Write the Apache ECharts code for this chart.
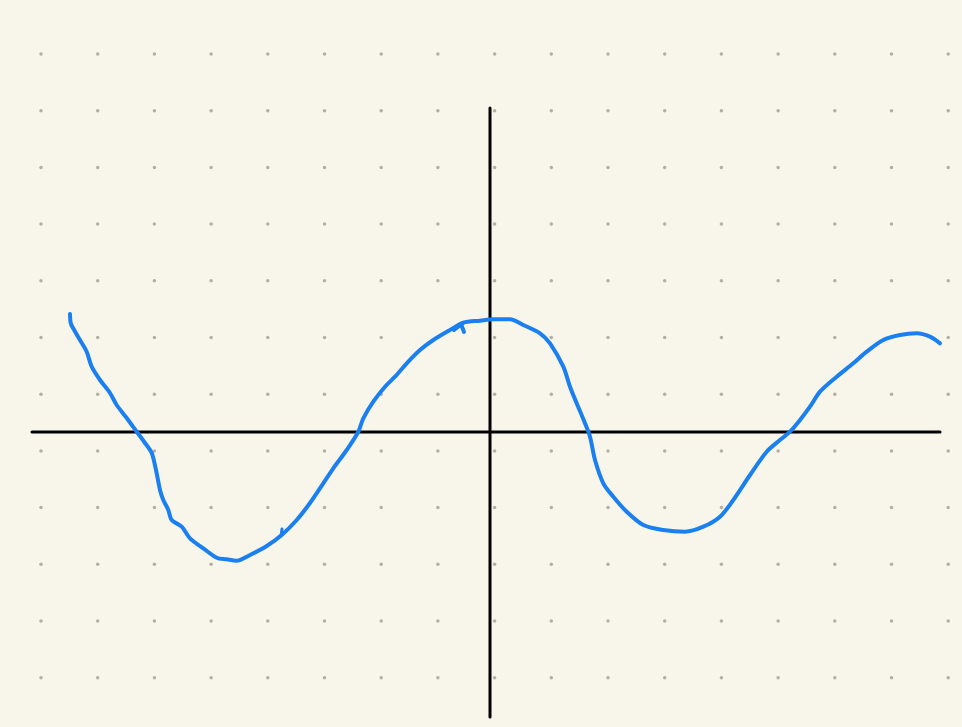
<!DOCTYPE html>
<html>
<head>
<meta charset="utf-8">
<title>sketch</title>
<script src="https://cdn.jsdelivr.net/npm/echarts@6/dist/echarts.min.js"></script>
<style>
  html, body { margin: 0; padding: 0; background: #f8f6eb; }
  #chart { width: 962px; height: 727px; }
</style>
</head>
<body>
<div id="chart"></div>
<script>
// dotted paper grid (page pixels)
var dotCols = [41, 97.7, 154.4, 211.1, 267.8, 324.5, 381.2, 437.9, 494.6, 551.3, 608, 664.7, 721.4, 778.1, 834.8, 891.5, 948.2];
var dotRows = [54, 110.7, 167.4, 224.1, 280.8, 337.5, 394.2, 450.9, 507.6, 564.3, 621, 677.7];

// hand drawn axes
var xAxisLine = [[32, 432], [940, 432]];
var yAxisLine = [[490, 108], [490, 717]];

// the blue hand drawn wave
var wavePoints = [
    [70, 314], [70.7, 323], [73, 328], [80, 340], [86.7, 351.7], [91.7, 366.7],
    [100, 380], [110, 393], [116.7, 405], [126.7, 418], [136.7, 431.7], [145, 443],
    [151.7, 453], [156, 470], [160, 490], [163.3, 500], [168.3, 510], [171.7, 520],
    [181.7, 526.7], [190, 538.3], [203.3, 548.3], [216.7, 557.7], [226.7, 559.3],
    [236.7, 560.7], [250, 555], [266.7, 546], [281.7, 535], [296.7, 520], [310, 503],
    [323.3, 483.3], [333.3, 468.3], [346.7, 450], [358.3, 431.7], [363.3, 418.3],
    [373.3, 401.7], [385, 386.7], [395, 376.7], [406.7, 363.3], [420, 350],
    [433.3, 340], [450, 330], [463.3, 322.7], [480, 320.7], [493.3, 319.3],
    [510, 319.3], [523.3, 325], [540, 333.3], [550, 343.3], [563.3, 366.7],
    [570, 386.7], [576.7, 403.3], [585, 423.3], [590, 436.7], [595, 460],
    [603.3, 483.3], [613.3, 496.7], [626.7, 511.7], [643.3, 525], [663.3, 530],
    [685, 531.7], [703.3, 526.7], [720, 516.7], [733.3, 500], [750, 475],
    [766.7, 451.7], [780, 440], [790, 431.7], [800, 420], [810, 406.7], [820, 391.7],
    [836.7, 376.7], [853.3, 363.3], [866.7, 351.7], [883.3, 340], [900, 335],
    [916.7, 333.3], [930, 336.7], [940, 343.3]
];
// little pen flicks on the wave
var flickA = [[463, 323], [454, 330]];
var flickB = [[461, 324], [464, 332]];
var flickC = [[281, 536], [282, 529]];

var dotData = [];
dotRows.forEach(function (y) {
    dotCols.forEach(function (x) {
        dotData.push([x, y]);
    });
});

var chart = echarts.init(document.getElementById('chart'));

function strokeSeries(data, color, width, smooth) {
    return {
        type: 'line',
        data: data,
        showSymbol: false,
        smooth: smooth || false,
        silent: true,
        lineStyle: { color: color, width: width, cap: 'round', join: 'round' }
    };
}

chart.setOption({
    backgroundColor: '#f8f6eb',
    animation: false,
    grid: { left: 0, right: 0, top: 0, bottom: 0 },
    xAxis: { type: 'value', min: 0, max: 962, show: false },
    yAxis: { type: 'value', min: 0, max: 727, inverse: true, show: false },
    series: [
        {
            type: 'scatter',
            data: dotData,
            symbolSize: 3.5,
            silent: true,
            itemStyle: { color: '#a29d90' }
        },
        strokeSeries(xAxisLine, '#000000', 3),
        strokeSeries(yAxisLine, '#000000', 3),
        strokeSeries(wavePoints, '#1a7fef', 4, 0.3),
        strokeSeries(flickA, '#1a7fef', 4),
        strokeSeries(flickB, '#1a7fef', 4),
        strokeSeries(flickC, '#1a7fef', 3)
    ]
});
</script>
</body>
</html>
